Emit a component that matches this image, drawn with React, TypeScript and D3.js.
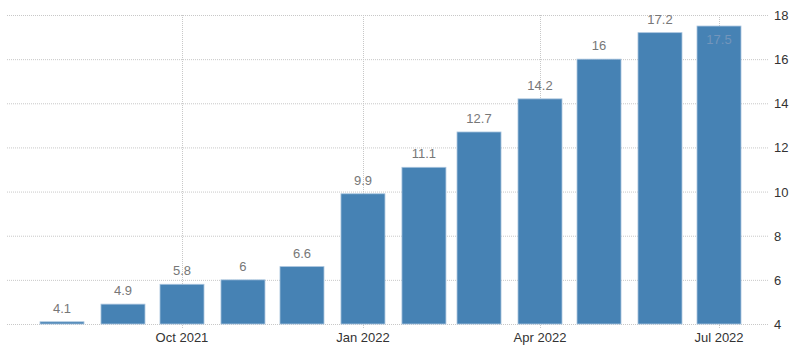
import React, { useEffect, useRef } from 'react';
import * as d3 from 'd3';

const months = ['2021-08', '2021-09', '2021-10', '2021-11', '2021-12', '2022-01', '2022-02', '2022-03', '2022-04', '2022-05', '2022-06', '2022-07'];
const values = [4.1, 4.9, 5.8, 6, 6.6, 9.9, 11.1, 12.7, 14.2, 16, 17.2, 17.5];
const yTicks = [4, 6, 8, 10, 12, 14, 16, 18];
const xTickMonths = ['2021-10', '2022-01', '2022-04', '2022-07'];
const xTickLabels = ['Oct 2021', 'Jan 2022', 'Apr 2022', 'Jul 2022'];

const FONT = '"Liberation Sans", Arial, sans-serif';

const App = () => {
  const svgRef = useRef<SVGSVGElement>(null);

  useEffect(() => {
    const svg = d3.select(svgRef.current);
    svg.selectAll('*').remove();

    const width = 800;
    const height = 352;
    const plotLeft = 7;
    const plotRight = 768;
    const plotTop = 15;
    const plotBottom = 324;

    const parse = d3.utcParse('%Y-%m');
    const data = months.map((m, i) => ({ date: parse(m) as Date, value: values[i] }));

    const x = d3.scaleUtc()
      .domain([parse('2021-08') as Date, parse('2022-07') as Date])
      .range([62, 719]);

    const y = d3.scaleLinear()
      .domain([4, 18])
      .range([plotBottom, plotTop]);

    const barWidth = 44;

    // horizontal grid
    svg.append('g')
      .selectAll('line')
      .data(yTicks)
      .join('line')
      .attr('x1', plotLeft)
      .attr('x2', plotRight)
      .attr('y1', d => y(d) + 0.5)
      .attr('y2', d => y(d) + 0.5)
      .attr('stroke', '#c8c8c8')
      .attr('stroke-dasharray', '1,1');

    // vertical grid
    svg.append('g')
      .selectAll('line')
      .data(xTickMonths)
      .join('line')
      .attr('x1', d => Math.round(x(parse(d) as Date)) + 0.5)
      .attr('x2', d => Math.round(x(parse(d) as Date)) + 0.5)
      .attr('y1', plotTop)
      .attr('y2', plotBottom + 5)
      .attr('stroke', '#c8c8c8')
      .attr('stroke-dasharray', '1,1');

    // bars
    svg.append('g')
      .selectAll('rect')
      .data(data)
      .join('rect')
      .attr('x', d => x(d.date) - barWidth / 2)
      .attr('y', d => y(d.value))
      .attr('width', barWidth)
      .attr('height', d => plotBottom - y(d.value))
      .attr('fill', '#4682b4')
      .attr('stroke', '#a9c4de')
      .attr('stroke-width', 0.8);

    // value labels
    svg.append('g')
      .selectAll('text')
      .data(data)
      .join('text')
      .attr('x', d => x(d.date))
      .attr('y', d => {
        const above = y(d.value) - 9;
        return above - 10 < 10 ? y(d.value) + 18 : above;
      })
      .attr('text-anchor', 'middle')
      .style('font-family', FONT)
      .style('font-size', '13px')
      .style('fill', d => (y(d.value) - 19 < 10 ? '#7395bb' : '#777'))
      .text(d => String(d.value));

    // right axis labels
    svg.append('g')
      .selectAll('text')
      .data(yTicks)
      .join('text')
      .attr('x', 774)
      .attr('y', d => y(d) + 5)
      .style('font-family', FONT)
      .style('font-size', '13px')
      .style('fill', '#333')
      .text(d => String(d));

    // bottom axis labels
    svg.append('g')
      .selectAll('text')
      .data(xTickMonths)
      .join('text')
      .attr('x', d => x(parse(d) as Date))
      .attr('y', 342)
      .attr('text-anchor', 'middle')
      .style('font-family', FONT)
      .style('font-size', '13px')
      .style('fill', '#333')
      .text((d, i) => xTickLabels[i]);

    svg.attr('width', width).attr('height', height);
  }, []);

  return (
    <svg
      ref={svgRef}
      width={800}
      height={352}
      style={{ position: 'absolute', left: 0, top: 0, background: '#fff' }}
    ></svg>
  );
};

export default App;
